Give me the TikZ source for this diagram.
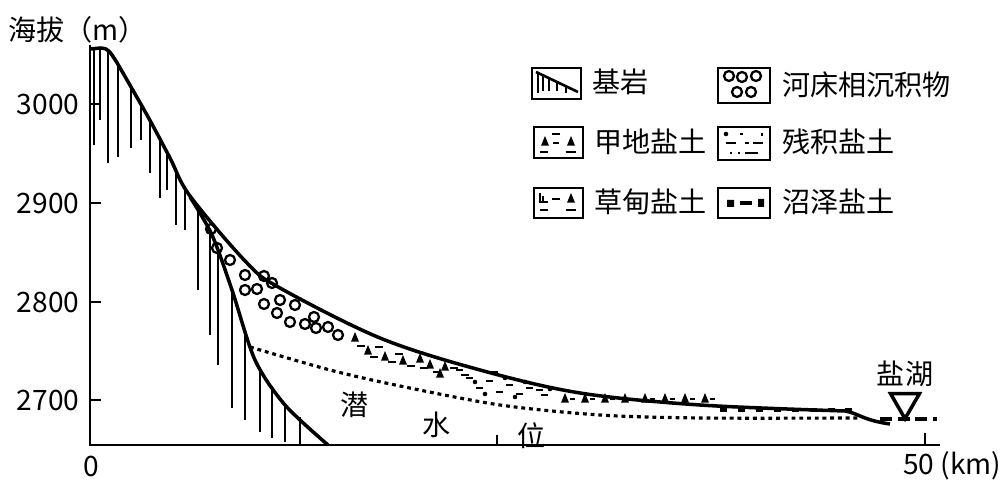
\documentclass[tikz,border=0pt]{standalone}
\usepackage{fontspec}
\setmainfont{Noto Sans CJK SC}
\usetikzlibrary{shapes.geometric}
\begin{document}
\begin{tikzpicture}[x=0.2mm,y=-0.2mm,
  lbl/.style={font=\fontsize{16pt}{18pt}\selectfont,inner sep=0pt},
  lbox/.style={draw,line width=1.5pt},
  thick2/.style={line width=2pt},
  hatch/.style={line width=1.2pt},
  pebble/.style={draw,line width=1.3pt,circle,minimum size=2mm,inner sep=0pt},
  tri/.style={fill,isosceles triangle,shape border rotate=90,minimum size=1.6mm,inner sep=0pt},
  wt/.style={line width=1.8pt,dash pattern=on 2.2pt off 2.2pt}]
\useasboundingbox (0,0) rectangle (1004,492);
% axes
\draw[line width=1.5pt] (90,45) -- (90,445) -- (940,445);
\foreach \y in {104,203,302,400} \draw[line width=1.4pt] (90,\y) -- (101,\y);
\draw[line width=1.4pt] (925,445) -- (925,433);
\draw[line width=1.4pt] (497,445) -- (497,435);
\node[lbl] (t3000) at (48,104) {3000};
\node[lbl] (t2900) at (48,203) {2900};
\node[lbl] (t2800) at (48,302) {2800};
\node[lbl] (t2700) at (48,400) {2700};
\node[lbl] (t0) at (91,466) {0};
\node[lbl,anchor=west] (t50) at (903,466) {50 (km)};
\node[lbl,anchor=west] (ylab) at (8,30) {海拔（m）};
% surface
\draw[thick2] (90,49) -- (101,48) .. controls (108,48) and (110,52) .. (116,61) plot[smooth,tension=0.55] coordinates {(116,61) (147,115) (170,158) (190,196) (247,263) (280,288) (380,338) (480,370) (580,393) (700,405) (845,411)} .. controls (858,413) and (862,420) .. (890,424);
% lower bedrock line
\draw[thick2] plot[smooth,tension=0.5] coordinates {(190,197) (212,235) (232,290) (255,360) (285,405) (328,445)};
% hatching
\foreach \x/\a/\b in {94/49/145,100/49/120,108/51/163,118/66/157,131/89/148,141/105/140,150/120/173,160/139/198,167/152/190,176/168/225,185/186/230,
  198/207/290,210/232/335,218/250/365,232/290/408,245/332/420,260/368/432,272/386/438,285/403/442,300/417/445}
  \draw[hatch] (\x,\a) -- (\x,\b);
% pebbles
\foreach \x/\y in {211/229,217/248,230/260,245/275,245/290,257/289,264/276,272/283,264/304,277/313,280/300,295/305,290/322,305/324,314/317,316/328,328/327,338/335}
  \node[pebble] at (\x,\y) {};
% water table
\draw[wt] plot[smooth,tension=0.5] coordinates {(250,347) (330,370) (400,386) (500,405) (600,415) (700,418) (860,418)};
% lake level
\draw[line width=2pt,dash pattern=on 7pt off 3pt] (880,419) -- (937,419);
\node[draw,line width=2pt,isosceles triangle,shape border rotate=-90,isosceles triangle apex angle=60,minimum size=5mm,inner sep=0pt] (tri) at (905,402) {};
\node[lbl] (hu) at (905,374) {盐湖};
% 甲地盐土 zone
\foreach \x/\y in {355/339,368/352,385/358,403/362,420/360,430/366,440/375,445/368}
  \node[tri] at (\x,\y) {};
\foreach \x/\y in {362/346,375/357,393/362,412/366,425/368,438/372,455/368,466/375,380/347,400/354,420/352}
  \draw[line width=1.5pt] (\x-5,\y) -- (\x+3,\y);
% 残积盐土 zone
\foreach \x/\y in {470/378,490/381,510/385,530/388,480/388,500/392,520/394,540/390,460/370,495/372,545/395}
  \draw[line width=1.5pt] (\x-4,\y) -- (\x+3,\y);
\foreach \x/\y in {475/382,505/378,525/382,550/389,485/394,515/397}
  \fill (\x,\y) circle (1.3pt);
% 草甸盐土 zone
\foreach \x in {565,585,605,625,645,665,685,705}
  { \node[tri] at (\x,400) {}; \draw[line width=1.5pt] (\x+5,399) -- (\x+10,399); }
% 沼泽盐土 zone
\foreach \x in {720,738,756,774,792,810,828,845}
  \draw[line width=1.8pt] (\x,410) -- (\x+7,410);
% labels
\node[lbl] (q) at (355,405) {潜};
\node[lbl] (s) at (437,425) {水};
\node[lbl] (w) at (532,436) {位};
% legend
\draw[lbox] (532,68) rectangle (581,99);
\draw[line width=1.5pt] (536,72) -- (578,92);
\foreach \x/\b in {538/93,543/91,549/91,557/91,566/93} \draw[hatch] (\x,73+\x/2.2-243.6) -- (\x,\b);
\node[lbl,anchor=west] (l1) at (592,82) {基岩};
\draw[lbox] (718,68) rectangle (770,103);
\foreach \x/\y in {729/76,742/77,756/76,737/92,751/92} \node[pebble] at (\x,\y) {};
\node[lbl,anchor=west] (l2) at (782,85) {河床相沉积物};
\draw[lbox] (534,127) rectangle (583,158);
\node[tri] at (545,143) {}; \node[tri] at (571,143) {};
\draw[line width=1.5pt] (552,134) -- (560,134) (553,143) -- (559,143) (540,152) -- (548,152) (566,152) -- (576,152);
\node[lbl,anchor=west] (l3) at (594,142) {甲地盐土};
\draw[lbox] (718,127) rectangle (770,160);
\draw[line width=1.5pt] (740,134) -- (743,134) (762,133) -- (762,136) (726,143) -- (736,143) (745,143) -- (749,143) (753,143) -- (763,143) (730,153) -- (732,153) (738,153) -- (740,153) (745,153) -- (758,153);
\fill (726,134) circle (1.3pt);
\node[lbl,anchor=west] (l4) at (782,142) {残积盐土};
\draw[lbox] (534,188) rectangle (583,218);
\node[tri] at (571,200) {};
\draw[line width=1.5pt] (540,193) -- (540,202) (543,196) -- (543,202) (539,202) -- (548,202) (552,199) -- (560,199) (540,210) -- (548,210) (566,210) -- (576,210);
\node[lbl,anchor=west] (l5) at (594,202) {草甸盐土};
\draw[lbox] (718,188) rectangle (770,218);
\fill (727,200) rectangle (734,207) (758,199) rectangle (764,207);
\draw[line width=1.8pt] (740,203) -- (752,203);
\node[lbl,anchor=west] (l6) at (782,202) {沼泽盐土};
\end{tikzpicture}
\end{document}
